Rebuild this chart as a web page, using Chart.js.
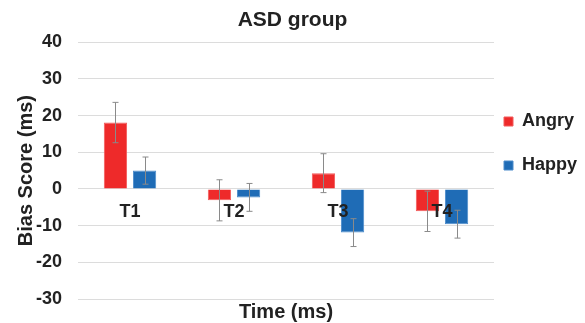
<!DOCTYPE html>
<html>
<head>
<meta charset="utf-8">
<script src="https://cdn.jsdelivr.net/npm/chart.js@4/dist/chart.umd.min.js"></script>
<style>
  html, body { margin: 0; padding: 0; background: #fff; }
  #wrap { width: 585px; height: 323px; }
</style>
</head>
<body>
<div id="wrap"><canvas id="asdChart"></canvas></div>
<script>
// Datos del gráfico
const categories = ['T1', 'T2', 'T3', 'T4'];
const angry = [18.1, -3.1, 4.3, -6.1];
const angryErr = [5.5, 5.6, 5.3, 5.5];
const happy = [5.0, -2.3, -11.9, -9.6];
const happyErr = [3.7, 3.8, 3.8, 3.8];
const yTicks = [-30, -20, -10, 0, 10, 20, 30, 40];

const errors = [angryErr, happyErr];
const boldFont = size => ({ family: 'Liberation Sans', size: size, weight: 'bold' });

// Barras de error dibujadas con las escalas del gráfico
const errorBars = {
    id: 'errorBars',
    afterDatasetsDraw(chart) {
        const ctx = chart.ctx;
        const y = chart.scales.y;
        ctx.save();
        ctx.strokeStyle = '#8a8a8a';
        ctx.lineWidth = 1;
        chart.data.datasets.forEach((ds, i) => {
            const meta = chart.getDatasetMeta(i);
            meta.data.forEach((bar, j) => {
                const v = ds.data[j];
                const e = errors[i][j];
                const x = Math.round(bar.x) + 0.5;
                const top = y.getPixelForValue(v + e);
                const bot = y.getPixelForValue(v - e);
                ctx.beginPath();
                ctx.moveTo(x, top); ctx.lineTo(x, bot);
                ctx.moveTo(x - 3, top); ctx.lineTo(x + 3, top);
                ctx.moveTo(x - 3, bot); ctx.lineTo(x + 3, bot);
                ctx.stroke();
            });
        });
        ctx.restore();
    }
};

// Ajuste de la leyenda junto al área del gráfico
const legendShift = {
    id: 'legendShift',
    afterLayout(chart) {
        const lg = chart.legend;
        if (!lg) return;
        lg.left -= 16;
        lg.top -= 18; lg.bottom -= 18;
    }
};

document.addEventListener('DOMContentLoaded', function() {
    const ctx = document.getElementById('asdChart').getContext('2d');
    new Chart(ctx, {
        type: 'bar',
        data: {
            labels: categories,
            datasets: [{
                label: 'Angry',
                data: angry,
                backgroundColor: '#ee2a2a',
                borderColor: '#f25a5a',
                borderWidth: 1
            }, {
                label: 'Happy',
                data: happy,
                backgroundColor: '#1f6cb6',
                borderColor: '#4d8ccb',
                borderWidth: 1
            }]
        },
        options: {
            responsive: true,
            maintainAspectRatio: false,
            animation: false,
            datasets: {
                bar: { categoryPercentage: 0.56, barPercentage: 0.8 }
            },
            plugins: {
                title: {
                    display: true,
                    text: 'ASD group',
                    color: '#222',
                    font: boldFont(21),
                    padding: { top: 8, bottom: 9 }
                },
                legend: {
                    position: 'right',
                    maxWidth: 91,
                    labels: {
                        boxWidth: 9,
                        boxHeight: 9,
                        padding: 26,
                        color: '#222',
                        font: boldFont(18)
                    }
                },
                tooltip: { enabled: false }
            },
            scales: {
                x: {
                    position: { y: 0 },
                    grid: { display: false },
                    border: { display: false },
                    ticks: { color: '#222', padding: 4, z: 1, font: boldFont(18) }
                },
                // eje solo para el título inferior
                xTitle: {
                    type: 'category',
                    labels: categories,
                    position: 'bottom',
                    grid: { display: false, drawTicks: false },
                    border: { display: false },
                    ticks: { display: false },
                    title: {
                        display: true,
                        text: 'Time (ms)',
                        color: '#222',
                        padding: { top: 1, bottom: -1 },
                        font: boldFont(20)
                    }
                },
                y: {
                    min: -30,
                    max: 40,
                    afterBuildTicks(axis) {
                        axis.ticks = yTicks.map(v => ({ value: v }));
                    },
                    afterFit(axis) {
                        axis.paddingBottom = 10;
                    },
                    grid: { color: '#dcdcdc', lineWidth: 1, drawTicks: false },
                    border: { display: false },
                    ticks: { color: '#222', padding: 16, font: boldFont(18) },
                    title: {
                        display: true,
                        text: 'Bias Score (ms)',
                        color: '#222',
                        padding: { top: 14, bottom: -18 },
                        font: boldFont(20)
                    }
                }
            }
        },
        plugins: [errorBars, legendShift]
    });
});
</script>
</body>
</html>
